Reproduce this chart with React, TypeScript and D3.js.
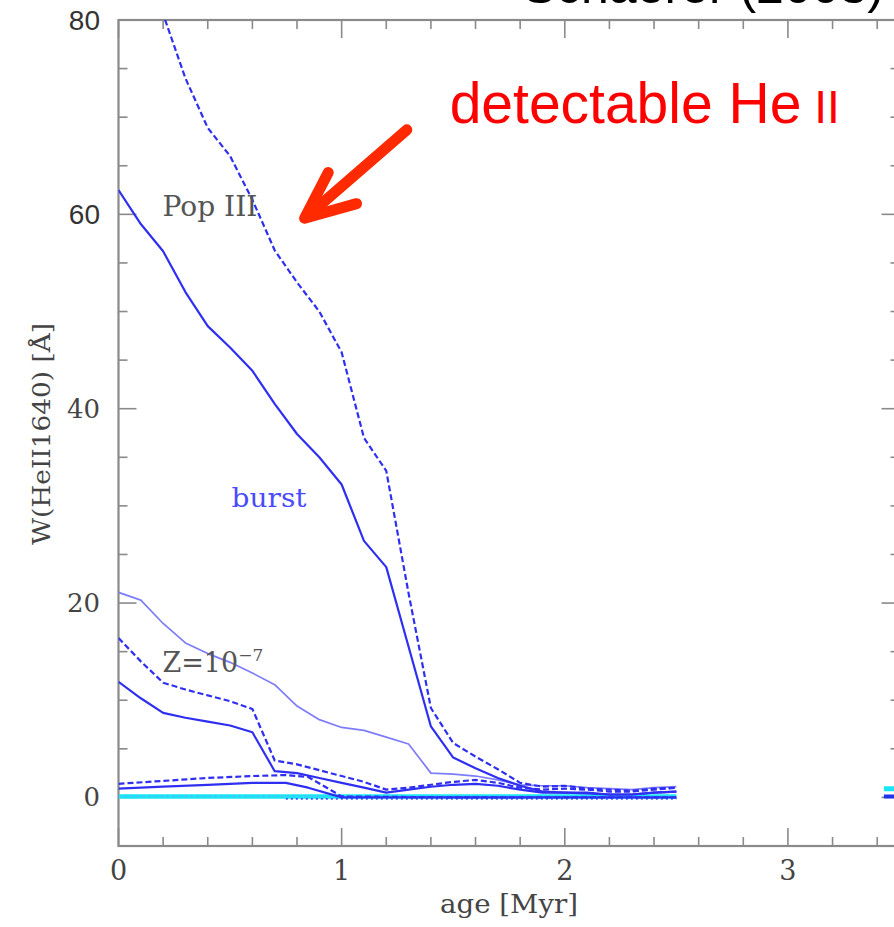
import React from "react";
import * as d3 from "d3";

// ---------- data ----------
const ageGrid = [0, 0.1, 0.2, 0.3, 0.4, 0.5, 0.6, 0.7, 0.8, 0.9, 1.0, 1.1, 1.2, 1.3, 1.4, 1.5, 1.6, 1.7, 1.8, 1.9, 2.0, 2.1, 2.2, 2.3, 2.4, 2.5];
const popIIIDashed = [96, 88, 80.6, 74, 68.9, 66, 61.5, 56.3, 53.0, 50.0, 45.8, 37.0, 33.6, 21, 9.2, 5.6, 4.2, 2.9, 1.5, 1.1, 1.2, 0.9, 0.8, 0.7, 0.9, 1.0];
const popIIISolid = [62.5, 59.0, 56.2, 52.0, 48.5, 46.3, 43.9, 40.5, 37.4, 35.0, 32.2, 26.4, 23.7, 15.5, 7.3, 4.1, 3.0, 2.0, 1.2, 0.6, 0.5, 0.5, 0.3, 0.3, 0.5, 0.6];
const zLight = [21.1, 20.3, 17.9, 15.9, 14.8, 13.9, 12.8, 11.6, 9.4, 8.0, 7.2, 6.9, 6.2, 5.5, 2.5, 2.4, 2.2, 1.8, 1.3, 1.2, 1.2, 1.0, 0.9, 0.8, 1.0, 1.1];
const zDashed = [16.4, 14.0, 11.8, 11.1, 10.5, 9.9, 9.1, 3.8, 3.4, 2.8, 2.2, 1.6, 0.8, 1.0, 1.3, 1.6, 1.8, 1.5, 1.0, 0.8, 0.9, 0.8, 0.6, 0.6, 0.8, 1.0];
const zSolid = [11.9, 10.2, 8.7, 8.2, 7.8, 7.4, 6.7, 2.7, 2.5, 2.0, 1.5, 1.0, 0.5, 0.8, 1.1, 1.3, 1.4, 1.2, 0.8, 0.5, 0.5, 0.4, 0.3, 0.3, 0.5, 0.6];

const lowAge = [0, 0.2, 0.4, 0.6, 0.75, 0.85, 1.0, 1.5, 2.0, 2.5];
const lowDashed = [1.4, 1.7, 2.0, 2.2, 2.3, 2.1, 0.1, 0, 0, 0];
const lowSolid = [0.9, 1.1, 1.3, 1.5, 1.5, 1.0, 0, 0, 0, 0];

const cyanAge = [0, 2.5];
const cyanVals = [0.1, 0.1];
const dotAge = [0.75, 2.5];
const dotVals = [-0.15, -0.15];
const patchAge = [3.43, 3.6];
const patchCyan = [0.9, 0.9];
const patchBlue = [0.1, 0.1];

const xMajor = [0, 1, 2, 3];
const yMajor = [0, 20, 40, 60, 80];
const xMinor = [0.2, 0.4, 0.6, 0.8, 1.2, 1.4, 1.6, 1.8, 2.2, 2.4, 2.6, 2.8, 3.2, 3.4];
const yMinor = [-5, 5, 10, 15, 25, 30, 35, 45, 50, 55, 65, 70, 75];
const ySansLabels = [60, 80];

// ---------- layout ----------
const W = 894, H = 927;
const x = d3.scaleLinear().domain([0, 3.5]).range([118.5, 899.5]);
const y = d3.scaleLinear().domain([-5, 80]).range([846, 20]);

const line = d3.line<[number, number]>().x(d => x(d[0])).y(d => y(d[1]));
const mk = (xs: number[], ys: number[]) => line(xs.map((v, i) => [v, ys[i]] as [number, number])) || "";

const BLUE = "#2f2ff2";
const serif = "'DejaVu Serif', serif";
const sans = "'Liberation Sans', Arial, sans-serif";

export default function App() {
  const axisCol = "#8a8a8a";
  return (
    <svg width={W} height={H} style={{ position: "absolute", left: 0, top: 0, background: "#fff" }}>
      <defs>
        <clipPath id="plot">
          <rect x={x(0)} y={y(80)} width={x(3.5) - x(0)} height={y(-5) - y(80)} />
        </clipPath>
      </defs>

      {/* title (cut off at the top edge, as in the source slide) */}
      <text x={884} y={3} textAnchor="end" fontFamily={sans} fontSize={50} fill="#000">Schaerer (2003)</text>

      {/* frame */}
      <rect x={x(0)} y={y(80)} width={x(3.5) - x(0)} height={y(-5) - y(80)} fill="none" stroke={axisCol} strokeWidth={2.2} />

      {/* ticks */}
      {xMajor.map(v => (
        <g key={"xM" + v}>
          <line x1={x(v)} x2={x(v)} y1={y(-5)} y2={y(-5) - 18} stroke={axisCol} strokeWidth={1.6} />
          <line x1={x(v)} x2={x(v)} y1={y(80)} y2={y(80) + 18} stroke={axisCol} strokeWidth={1.6} />
        </g>
      ))}
      {xMinor.map(v => (
        <g key={"xm" + v}>
          <line x1={x(v)} x2={x(v)} y1={y(-5)} y2={y(-5) - 9} stroke={axisCol} strokeWidth={1.6} />
          <line x1={x(v)} x2={x(v)} y1={y(80)} y2={y(80) + 9} stroke={axisCol} strokeWidth={1.6} />
        </g>
      ))}
      {yMajor.map(v => (
        <g key={"yM" + v}>
          <line x1={x(0)} x2={x(0) + 18} y1={y(v)} y2={y(v)} stroke={axisCol} strokeWidth={1.6} />
          <line x1={x(3.5)} x2={x(3.5) - 18} y1={y(v)} y2={y(v)} stroke={axisCol} strokeWidth={1.6} />
        </g>
      ))}
      {yMinor.map(v => (
        <g key={"ym" + v}>
          <line x1={x(0)} x2={x(0) + 9} y1={y(v)} y2={y(v)} stroke={axisCol} strokeWidth={1.6} />
          <line x1={x(3.5)} x2={x(3.5) - 9} y1={y(v)} y2={y(v)} stroke={axisCol} strokeWidth={1.6} />
        </g>
      ))}

      {/* tick labels */}
      {xMajor.map(v => (
        <text key={"xl" + v} x={x(v)} y={880} textAnchor="middle" fontFamily={serif} fontSize={27} fill="#444">{v}</text>
      ))}
      {yMajor.map(v => ySansLabels.includes(v) ? (
        <text key={"yl" + v} x={100} y={y(v) + 10} textAnchor="end" fontFamily={sans} fontSize={28} fill="#333">{v}</text>
      ) : (
        <text key={"yl" + v} x={100} y={y(v) + 9} textAnchor="end" fontFamily={serif} fontSize={26} fill="#444">{v}</text>
      ))}

      {/* axis titles */}
      <text x={509} y={913} textAnchor="middle" fontFamily={serif} fontSize={26} fill="#444" textLength={138} lengthAdjust="spacingAndGlyphs">age [Myr]</text>
      <text transform={`translate(50,434) rotate(-90)`} textAnchor="middle" fontFamily={serif} fontSize={24} fill="#444" textLength={222} lengthAdjust="spacingAndGlyphs">W(HeII1640) [Å]</text>

      {/* data */}
      <g clipPath="url(#plot)" fill="none" strokeLinejoin="round">
        <path d={mk(cyanAge, cyanVals)} stroke="#19e6f5" strokeWidth={4.5} />
        <path d={mk(cyanAge, cyanVals)} stroke="#6fa8ff" strokeWidth={1.2} strokeDasharray="2,4" />
        <path d={mk(dotAge, dotVals)} stroke="#3a5cff" strokeWidth={1.6} strokeDasharray="2,3" />
        <path d={mk(patchAge, patchCyan)} stroke="#19e6f5" strokeWidth={5} />
        <path d={mk(patchAge, patchBlue)} stroke="#2233ee" strokeWidth={4} />

        <path d={mk(lowAge, lowSolid)} stroke={BLUE} strokeWidth={2.2} />
        <path d={mk(lowAge, lowDashed)} stroke={BLUE} strokeWidth={2.2} strokeDasharray="6,3" />

        <path d={mk(ageGrid, zLight)} stroke="#7d7dfa" strokeWidth={1.7} />
        <path d={mk(ageGrid, zSolid)} stroke={BLUE} strokeWidth={2.2} />
        <path d={mk(ageGrid, zDashed)} stroke={BLUE} strokeWidth={2.2} strokeDasharray="6,3" />

        <path d={mk(ageGrid, popIIISolid)} stroke={BLUE} strokeWidth={2.2} />
        <path d={mk(ageGrid, popIIIDashed)} stroke={BLUE} strokeWidth={2.2} strokeDasharray="6,3" />
      </g>

      {/* in-plot labels */}
      <text x={x(0.197)} y={y(59.8)} fontFamily={serif} fontSize={28} fill="#555" textLength={95} lengthAdjust="spacingAndGlyphs">Pop III</text>
      <text x={x(0.507)} y={y(29.9)} fontFamily={serif} fontSize={26} fill="#4a4aff" textLength={75} lengthAdjust="spacingAndGlyphs">burst</text>
      <text x={x(0.197)} y={y(12.9)} fontFamily={serif} fontSize={27} fill="#555">
        <tspan>Z=10</tspan>
        <tspan dy={-11} fontSize={17}>−7</tspan>
      </text>

      {/* red annotation */}
      <g stroke="#ff2a00" strokeWidth={11} strokeLinecap="round" strokeLinejoin="round" fill="none">
        <line x1={x(1.292)} y1={y(68.7)} x2={x(0.845)} y2={y(59.8)} />
        <polyline points={`${x(0.94)},${y(64.3)} ${x(0.834)},${y(59.6)} ${x(1.067)},${y(61.1)}`} />
      </g>
      <text x={x(1.484)} y={y(69.4)} fontFamily={sans} fontSize={57} fill="#ff0000">
        detectable He<tspan fontSize={46}> II</tspan>
      </text>
    </svg>
  );
}
